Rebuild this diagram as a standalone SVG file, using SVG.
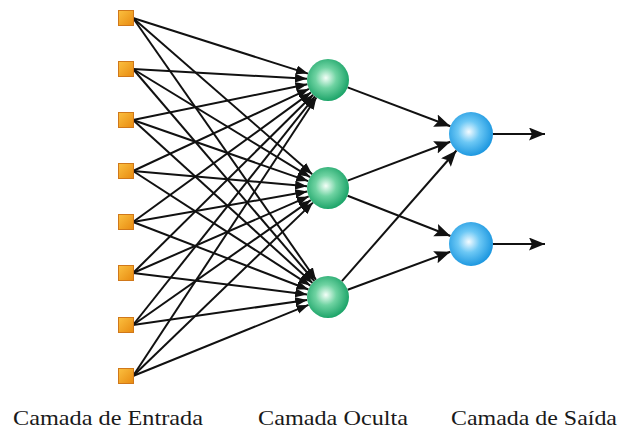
<svg xmlns="http://www.w3.org/2000/svg" width="621" height="431" viewBox="0 0 621 431">
<style>
.c{stroke:#111;stroke-width:2;fill:none}
.in{marker-end:url(#ahs)}
.ho{marker-end:url(#ahl)}
.sq{fill:url(#gO);stroke:#d0781a;stroke-width:1}
.lbl{font-family:"Liberation Serif","Times New Roman",serif;font-size:22px;fill:#1a1a1a}
</style>
<defs>
<marker id="ahs" markerUnits="userSpaceOnUse" markerWidth="13" markerHeight="10" refX="12" refY="4.5" orient="auto"><path d="M0,0 L12,4.5 L0,9 z" fill="#111"/></marker>
<marker id="ahl" markerUnits="userSpaceOnUse" markerWidth="17" markerHeight="14" refX="16" refY="6.5" orient="auto"><path d="M0,0 L16,6.5 L0,13 L3,6.5 z" fill="#111"/></marker>
<linearGradient id="gO" x1="0" y1="0" x2="1" y2="1"><stop offset="0" stop-color="#fbc040"/><stop offset="1" stop-color="#e88a10"/></linearGradient>
<radialGradient id="gG" cx="0.45" cy="0.45" r="0.55"><stop offset="0" stop-color="#f4fff8"/><stop offset="0.45" stop-color="#6fd3a2"/><stop offset="1" stop-color="#1ea56a"/></radialGradient>
<radialGradient id="gB" cx="0.45" cy="0.45" r="0.55"><stop offset="0" stop-color="#f4fbff"/><stop offset="0.45" stop-color="#6cc8f5"/><stop offset="1" stop-color="#1e98e0"/></radialGradient>
</defs>
<g id="connectors">
<path class="c in" d="M133,18 L308.0,73.6"/>
<path class="c in" d="M133,69 L307.0,78.8"/>
<path class="c in" d="M133,120 L307.4,84.2"/>
<path class="c in" d="M133,171 L309.0,88.9"/>
<path class="c in" d="M133,222 L311.0,92.4"/>
<path class="c in" d="M133,273 L313.1,94.8"/>
<path class="c in" d="M133,325 L314.9,96.4"/>
<path class="c in" d="M133,376 L316.4,97.5"/>
<path class="c in" d="M133,18 L312.2,174.2"/>
<path class="c in" d="M133,69 L310.1,177.1"/>
<path class="c in" d="M133,120 L308.2,181.1"/>
<path class="c in" d="M133,171 L307.1,186.2"/>
<path class="c in" d="M133,222 L307.3,191.6"/>
<path class="c in" d="M133,273 L308.7,196.4"/>
<path class="c in" d="M133,325 L310.8,200.1"/>
<path class="c in" d="M133,376 L312.9,202.6"/>
<path class="c in" d="M133,18 L316.0,279.8"/>
<path class="c in" d="M133,69 L314.4,281.0"/>
<path class="c in" d="M133,120 L312.5,282.9"/>
<path class="c in" d="M133,171 L310.4,285.6"/>
<path class="c in" d="M133,222 L308.4,289.5"/>
<path class="c in" d="M133,273 L307.2,294.4"/>
<path class="c in" d="M133,325 L307.2,300.0"/>
<path class="c in" d="M133,376 L308.5,304.9"/>
<path class="c ho" d="M347.6,87.4 L450.4,126.2"/>
<path class="c ho" d="M347.6,180.6 L450.4,141.8"/>
<path class="c ho" d="M347.6,195.7 L450.5,236.0"/>
<path class="c ho" d="M341.9,281.2 L456.5,150.5"/>
<path class="c ho" d="M347.7,289.7 L450.4,251.7"/>
<path class="c ho" d="M493,134 L545,134"/>
<path class="c ho" d="M493,244 L545,244"/>
</g>
<g id="input-1"><rect class="sq" x="118.5" y="10.5" width="15" height="15"/></g>
<g id="input-2"><rect class="sq" x="118.5" y="61.5" width="15" height="15"/></g>
<g id="input-3"><rect class="sq" x="118.5" y="112.5" width="15" height="15"/></g>
<g id="input-4"><rect class="sq" x="118.5" y="163.5" width="15" height="15"/></g>
<g id="input-5"><rect class="sq" x="118.5" y="214.5" width="15" height="15"/></g>
<g id="input-6"><rect class="sq" x="118.5" y="265.5" width="15" height="15"/></g>
<g id="input-7"><rect class="sq" x="118.5" y="317.5" width="15" height="15"/></g>
<g id="input-8"><rect class="sq" x="118.5" y="368.5" width="15" height="15"/></g>
<g id="hidden-1"><circle cx="328" cy="80" r="21" fill="url(#gG)"/></g>
<g id="hidden-2"><circle cx="328" cy="188" r="21" fill="url(#gG)"/></g>
<g id="hidden-3"><circle cx="328" cy="297" r="21" fill="url(#gG)"/></g>
<g id="output-1"><circle cx="471" cy="134" r="22" fill="url(#gB)"/></g>
<g id="output-2"><circle cx="471" cy="244" r="22" fill="url(#gB)"/></g>
<g id="labels">
<text class="lbl" x="13" y="425" textLength="190" lengthAdjust="spacingAndGlyphs">Camada de Entrada</text>
<text class="lbl" x="258" y="425" textLength="150" lengthAdjust="spacingAndGlyphs">Camada Oculta</text>
<text class="lbl" x="451" y="425" textLength="166" lengthAdjust="spacingAndGlyphs">Camada de Saída</text>
</g>
</svg>
